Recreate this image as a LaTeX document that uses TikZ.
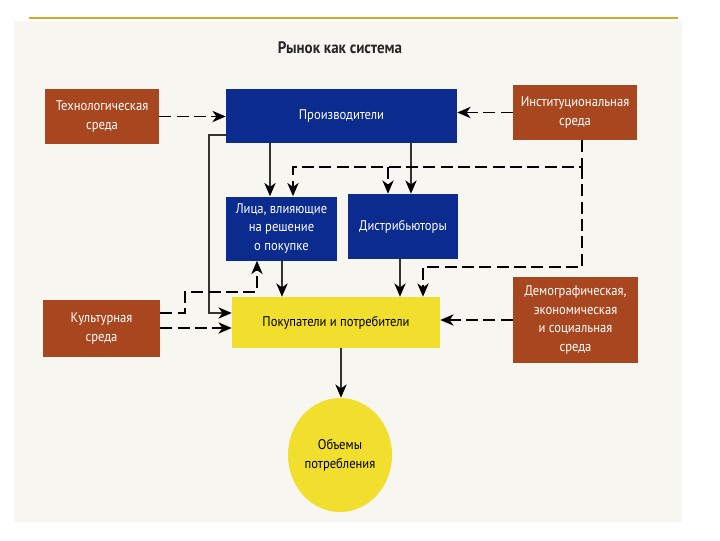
\documentclass[tikz,border=0pt]{standalone}
\usepackage{fontspec}
\setmainfont{PT Sans}[FakeStretch=0.9]
\usetikzlibrary{arrows.meta,shapes.geometric}
\definecolor{envbrown}{HTML}{A8471F}
\definecolor{mainblue}{HTML}{0C2B8F}
\definecolor{buyyellow}{HTML}{F2DE2C}
\definecolor{goldline}{HTML}{D2A92B}
\definecolor{panelgray}{HTML}{F7F6F1}
\begin{document}
\begin{tikzpicture}[x=0.75pt,y=-0.75pt,
  envbox/.style={fill=envbrown,text=white,align=center,inner sep=0pt,
    font=\fontsize{10.5}{14}\selectfont},
  mainbox/.style={fill=mainblue,text=white,align=center,inner sep=0pt,
    font=\fontsize{10.5}{14}\selectfont},
  buybox/.style={fill=buyyellow,text=black,align=center,inner sep=0pt,
    font=\fontsize{10.5}{14}\selectfont},
  solarr/.style={draw=black!80,line width=0.9pt,-{Stealth[length=10pt,width=8.5pt,inset=3pt,color=black]}},
  dasharr/.style={draw=black,line width=1.1pt,dash pattern=on 9pt off 4pt,
    -{Stealth[length=10pt,width=8.5pt,inset=3pt]}}]
  \useasboundingbox (0,0) rectangle (720,540);
  \fill[panelgray] (14,21) rectangle (682,522);
  \draw[goldline,line width=1.5pt] (29,18) -- (678,18);
  \node[font=\fontsize{12.5}{15}\bfseries,text=black!85] (title) at (340,48) {Рынок как система};

  \node[envbox,minimum width=85.5pt,minimum height=41.25pt] (tech) at (102,116.5) {Технологическая\\среда};
  \node[mainbox,minimum width=173.25pt,minimum height=40.5pt] (prod) at (341.5,116) {Производители};
  \node[envbox,minimum width=93pt,minimum height=41.25pt] (inst) at (575,112.5) {Институциональная\\среда};
  \node[mainbox,minimum width=83.25pt,minimum height=48pt] (lica) at (281.5,228.5) {Лица, влияющие\\на решение\\о покупке};
  \node[mainbox,minimum width=82.5pt,minimum height=48.75pt] (distr) at (403,226.5) {Дистрибьюторы};
  \node[envbox,minimum width=87.75pt,minimum height=42.75pt] (cult) at (101.5,328.5) {Культурная\\среда};
  \node[buybox,minimum width=156pt,minimum height=38.25pt] (pok) at (336,322.5) {Покупатели и потребители};
  \node[envbox,minimum width=93.75pt,minimum height=64.5pt] (demo) at (575.5,320) {Демографическая,\\экономическая\\и социальная\\среда};
  \node[buybox,ellipse,minimum width=78pt,minimum height=85.5pt] (vol) at (340,455) {Объемы\\потребления};

  \coordinate (xa) at (270,0);
  \coordinate (xb) at (293,0);
  \coordinate (xc) at (388,0);
  \coordinate (xd) at (411,0);
  \coordinate (xe) at (282,0);
  \coordinate (xf) at (400,0);
  \coordinate (xg) at (423,0);
  \coordinate (xh) at (582,0);
  \coordinate (xi) at (209,0);
  \coordinate (xj) at (185,0);
  \coordinate (xk) at (257,0);
  \coordinate (xl) at (341,0);
  \coordinate (ya) at (0,167);
  \coordinate (yb) at (0,267);
  \coordinate (yc) at (0,292);
  \coordinate (yd) at (0,313);
  \coordinate (ye) at (0,328);
  \coordinate (yf) at (0,135);

  \draw[dasharr] (tech.east) -- (tech.east -| prod.west);
  \draw[dasharr] (inst.west) -- (inst.west -| prod.east);
  \draw[solarr] (xa |- prod.south) -- (xa |- lica.north);
  \draw[solarr] (xd |- prod.south) -- (xd |- distr.north);
  \draw[dasharr] (xh |- inst.south) -- (xh |- ya) -| (xb |- lica.north);
  \draw[dasharr] (xc |- ya) -- (xc |- distr.north);
  \draw[dasharr] (xh |- ya) -- (xh |- yb) -| (xg |- pok.north);
  \draw[solarr] (xe |- lica.south) -- (xe |- pok.north);
  \draw[solarr] (xf |- distr.south) -- (xf |- pok.north);
  \draw[solarr] (prod.west |- yf) -| (xi |- yd) -- (pok.west |- yd);
  \draw[dasharr] (cult.east |- yd) -| (xj |- yc) -| (xk |- lica.south);
  \draw[dasharr] (cult.east |- ye) -- (pok.west |- ye);
  \draw[dasharr] (demo.west) -- (demo.west -| pok.east);
  \draw[solarr] (xl |- pok.south) -- (xl |- vol.north);
\end{tikzpicture}
\end{document}
